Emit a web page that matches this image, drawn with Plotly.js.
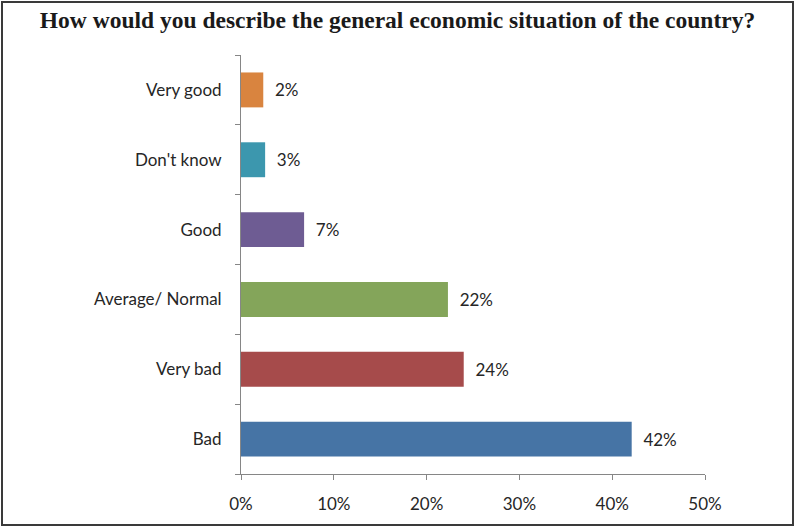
<!DOCTYPE html>
<html>
<head>
<meta charset="utf-8">
<script src="https://cdn.plot.ly/plotly-3.0.1.min.js"></script>
<style>
  html, body { margin: 0; padding: 0; background: #fff; }
  #wrap { position: relative; width: 795px; height: 528px; }
  #chart { position: absolute; left: 0; top: 0; width: 795px; height: 528px; }
  #frame { position: absolute; left: 1px; top: 1px; width: 793px; height: 525px;
           box-sizing: border-box; border: 2px solid #3a3a3a; pointer-events: none; }
</style>
</head>
<body>
<div id="wrap">
  <div id="chart"></div>
  <div id="frame"></div>
</div>
<script>
// Data (bottom to top as drawn)
const categories = ["Bad", "Very bad", "Average/ Normal", "Good", "Don't know", "Very good"];
const values = [42.1, 24.0, 22.3, 6.8, 2.6, 2.4];
const labels = ["42%", "24%", "22%", "7%", "3%", "2%"];
const colors = ["#4674A5", "#A64B4B", "#84A55A", "#6E5C93", "#3C97AE", "#D9843F"];
const xTickVals = [0, 10, 20, 30, 40, 50];
const xTickText = ["0%", "10%", "20%", "30%", "40%", "50%"];

const textColor = "#262626";
const font = "Lato, 'Open Sans', sans-serif";

const trace = {
  type: "bar",
  orientation: "h",
  y: categories,
  x: values,
  marker: { color: colors },
  width: 0.5,
  text: labels.map(l => "\u00a0\u00a0" + l),
  textposition: "outside",
  cliponaxis: false,
  textfont: { family: font, size: 17, color: textColor },
  hoverinfo: "none"
};

const layout = {
  width: 795,
  height: 528,
  margin: { l: 241, r: 90, t: 55, b: 54 },
  paper_bgcolor: "#ffffff",
  plot_bgcolor: "#ffffff",
  showlegend: false,
  title: {
    text: "How would you describe the general economic situation of the country?",
    font: { family: "'Liberation Serif', 'Times New Roman', serif", size: 23.5, color: "#1a1a1a", weight: "bold" },
    x: 0.5, xanchor: "center", y: 0.962, yanchor: "middle"
  },
  xaxis: {
    range: [0, 50],
    tickvals: xTickVals,
    ticktext: xTickText,
    showgrid: false,
    zeroline: false,
    showline: true,
    linecolor: "#868686",
    linewidth: 1,
    ticks: "outside",
    ticklen: 5,
    tickcolor: "#868686",
    ticklabelstandoff: 10,
    tickfont: { family: font, size: 17, color: textColor },
    fixedrange: true
  },
  yaxis: {
    type: "category",
    categoryorder: "array",
    categoryarray: categories,
    range: [-0.5, 5.5],
    showgrid: false,
    zeroline: false,
    showline: true,
    linecolor: "#868686",
    linewidth: 1,
    ticks: "outside",
    tickson: "boundaries",
    ticklen: 5,
    tickcolor: "#868686",
    ticklabelstandoff: 15,
    tickfont: { family: font, size: 17, color: textColor },
    fixedrange: true
  }
};

Plotly.newPlot("chart", [trace], layout, { displayModeBar: false, staticPlot: true });
</script>
</body>
</html>
